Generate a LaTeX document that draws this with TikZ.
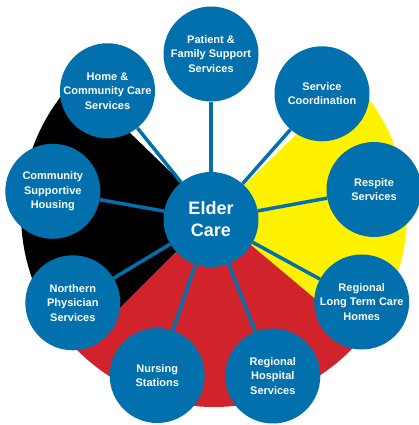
\documentclass[tikz,border=0pt]{standalone}
\usepackage{fontspec}
\setmainfont{Liberation Sans}
\definecolor{wblue}{RGB}{1,112,173}
\definecolor{wred}{RGB}{208,35,43}
\definecolor{wyellow}{RGB}{255,242,0}
\begin{document}
\begin{tikzpicture}[x=1pt,y=1pt,
  sat/.style={circle,fill=wblue,minimum size=95pt,inner sep=0pt,align=center,text=white,
    font=\bfseries\fontsize{11}{14.5}\selectfont},
  hub/.style={sat,font=\bfseries\fontsize{18}{22}\selectfont},
  link/.style={draw=wblue,line width=3.5pt}]
\useasboundingbox (0,0) rectangle (419,425);
\coordinate (W) at (214,211);
% medicine wheel background
\fill[wyellow] (W) -- ++(-40:193pt) arc[start angle=-40,end angle=44,radius=193pt] -- cycle;
\fill[black] (W) -- ++(136:193pt) arc[start angle=136,end angle=225,radius=193pt] -- cycle;
\fill[wred] (W) -- ++(225:193pt) arc[start angle=225,end angle=320,radius=193pt] -- cycle;
% nodes
\node[hub] (ec) at (211,205.5) {Elder\\Care};
\node[sat] (pf) at (211,371) {Patient \&\\Family Support\\Services};
\node[sat] (hc) at (107.5,334.2) {Home \&\\Community Care\\Services};
\node[sat] (sc) at (322,331.2) {Service\\Coordination};
\node[sat] (csh) at (52.8,233.7) {Community\\Supportive\\Housing};
\node[sat] (rs) at (374,235.5) {Respite\\Services};
\node[sat] (np) at (72.8,122.2) {Northern\\Physician\\Services};
\node[sat] (ltc) at (361.7,123) {Regional\\Long Term Care\\Homes};
\node[sat] (ns) at (157.2,49.5) {Nursing\\Stations};
\node[sat] (rh) at (272.8,49) {Regional\\Hospital\\Services};
% connectors
\foreach \n in {pf,hc,sc,csh,rs,np,ltc,ns,rh}
  \draw[link] (ec) -- (\n);
\end{tikzpicture}
\end{document}
